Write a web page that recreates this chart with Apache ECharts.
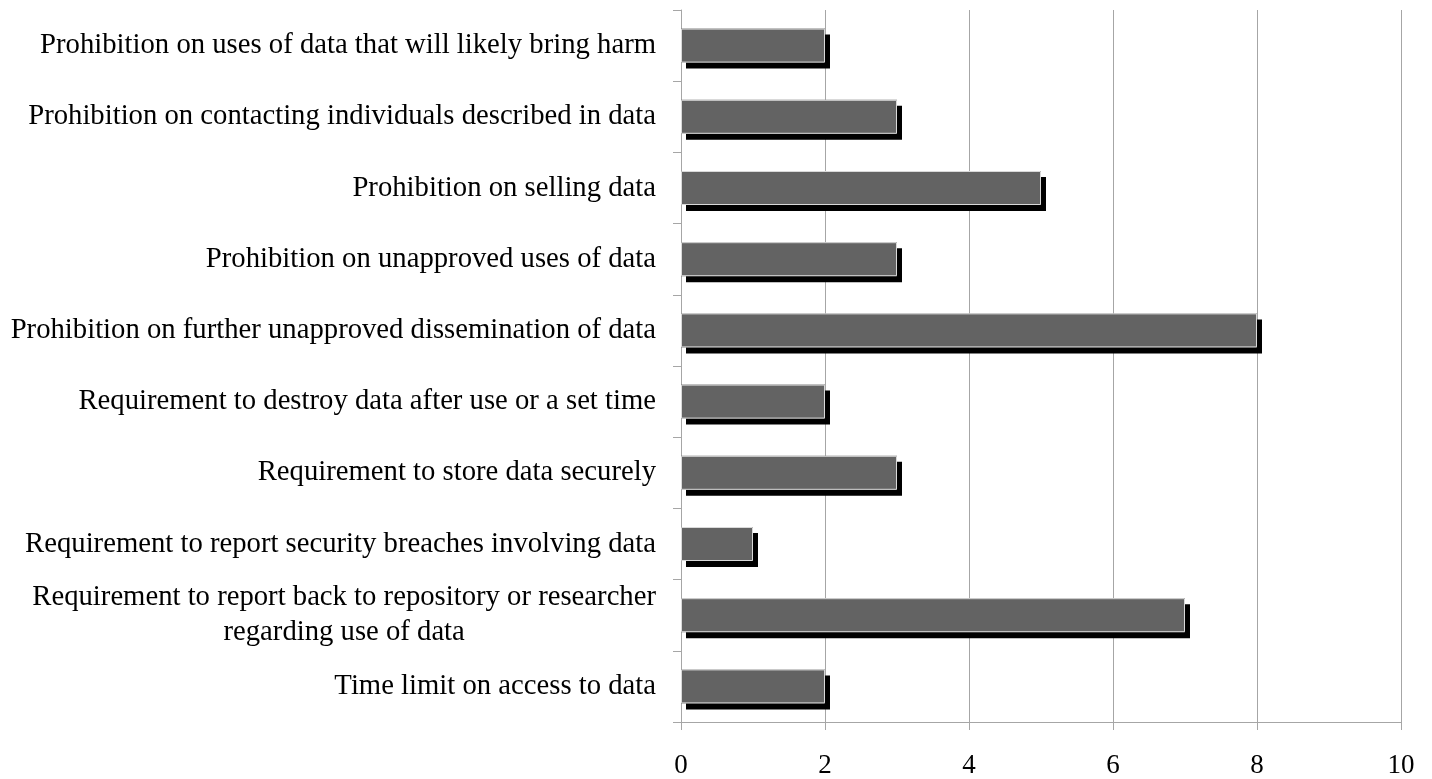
<!DOCTYPE html>
<html>
<head>
<meta charset="utf-8">
<script src="https://cdn.jsdelivr.net/npm/echarts@6/dist/echarts.min.js"></script>
<style>html,body{margin:0;padding:0;background:#fff}#c{width:1432px;height:779px}</style>
</head>
<body>
<div id="c"></div>
<script>
const categories = [
  "Prohibition on uses of data that will likely bring harm",
  "Prohibition on contacting individuals described in data",
  "Prohibition on selling data",
  "Prohibition on unapproved uses of data",
  "Prohibition on further unapproved dissemination of data",
  "Requirement to destroy data after use or a set time",
  "Requirement to store data securely",
  "Requirement to report security breaches involving data",
  "Requirement to report back to repository or researcher\nregarding use of data",
  "Time limit on access to data"
];
const values = [2, 3, 5, 3, 8, 2, 3, 1, 7, 2];
const xTicks = [0, 2, 4, 6, 8, 10];

const chart = echarts.init(document.getElementById('c'), null, {renderer: 'canvas'});
const FONT = 'Liberation Serif';
const FS = 28.7;
chart.setOption({
  animation: false,
  grid: {left: 681, right: 31, top: 10, bottom: 56, containLabel: false},
  xAxis: {
    type: 'value', min: xTicks[0], max: xTicks[xTicks.length - 1], interval: 2,
    axisLine: {show: true, lineStyle: {color: '#a6a6a6', width: 1}},
    axisTick: {show: true, length: 8, lineStyle: {color: '#a6a6a6'}},
    splitLine: {show: true, lineStyle: {color: '#a6a6a6', width: 1}},
    axisLabel: {color: '#000', fontFamily: FONT, fontSize: 27, margin: 30}
  },
  yAxis: {
    type: 'category', data: categories, inverse: true,
    axisLine: {show: true, lineStyle: {color: '#a6a6a6', width: 1}},
    axisTick: {show: true, length: 8, lineStyle: {color: '#a6a6a6'}},
    axisLabel: {
      color: '#000', fontFamily: FONT, fontSize: FS, margin: 25, lineHeight: 35,
      formatter: function (v) {
        const parts = v.split('\n');
        if (parts.length === 1) return v;
        return parts[0] + '\n{c|' + parts[1] + '}';
      },
      rich: {c: {align: 'center', fontFamily: FONT, fontSize: FS, color: '#000', lineHeight: 35}}
    }
  },
  series: [{
    type: 'bar', data: values, barWidth: 34, z: 2,
    itemStyle: {
      color: '#636363', borderWidth: 0,
      shadowColor: '#000', shadowBlur: 0, shadowOffsetX: 5, shadowOffsetY: 6
    }
  }, {
    type: 'bar', data: values, barWidth: 34, barGap: '-100%', z: 3, silent: true,
    itemStyle: {color: 'rgba(0,0,0,0)', borderColor: '#d9d9d9', borderWidth: 1}
  }]
});
</script>
</body>
</html>
